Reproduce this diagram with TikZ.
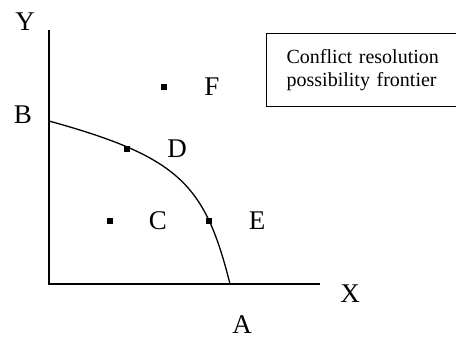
\documentclass[tikz,border=0pt]{standalone}
\usepackage{fontspec}
\setmainfont{Liberation Serif}
\begin{document}
\begin{tikzpicture}[
    x=1pt, y=-1pt,
    lbl/.style={font=\fontsize{27}{31}\selectfont, inner sep=0pt},
    dot/.style={rectangle, fill, minimum size=6pt, inner sep=0pt},
    axis/.style={line width=1.3pt},
    curve/.style={line width=1.3pt},
    note/.style={rectangle, draw, line width=1.3pt, align=left, anchor=north west,
        minimum width=196pt, minimum height=73pt, inner xsep=20pt,
        text width=170pt, font=\fontsize{20}{23}\selectfont}
]
    \useasboundingbox (0,0) rectangle (456,340);

    % Axes
    \coordinate (origin) at (49,284);
    \coordinate (ytop) at (49,30);
    \coordinate (xend) at (320,284);
    \draw[axis] (ytop) -- (origin) -- (xend);
    \node[lbl] (ylabel) at (25,22) {Y};
    \node[lbl] (xlabel) at (350,294) {X};

    % Frontier
    \coordinate (bpt) at (49,121);
    \coordinate (apt) at (230,284);
    \draw[curve] (bpt) .. controls (179,157) and (205,184) .. (apt);
    \node[lbl] (blabel) at (23,115) {B};
    \node[lbl] (alabel) at (242,325) {A};

    % Points
    \node[dot] (d) at (127,149) {};
    \node[dot] (e) at (209,221) {};
    \node[dot] (c) at (110,221) {};
    \node[dot] (f) at (164,87) {};
    \node[lbl] (dlabel) at (177,149) {D};
    \node[lbl] (elabel) at (257,221) {E};
    \node[lbl] (clabel) at (158,221) {C};
    \node[lbl] (flabel) at (212,87) {F};

    % Legend
    \node[note] (legend) at (266,33) {Conflict resolution\\possibility frontier};
\end{tikzpicture}
\end{document}
